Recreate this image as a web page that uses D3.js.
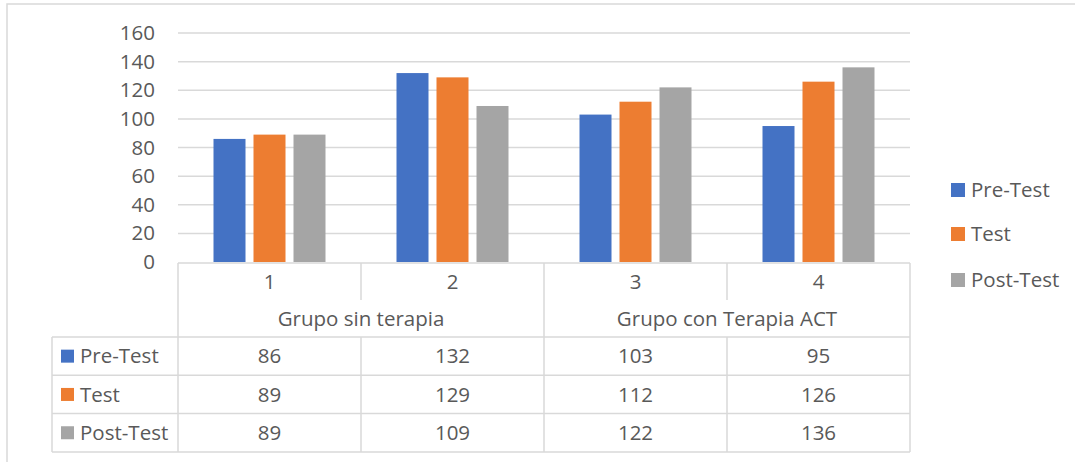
<!DOCTYPE html>
<html>
<head>
<meta charset="utf-8">
<script src="https://cdn.jsdelivr.net/npm/d3@7"></script>
<style>
  body { margin: 0; background: #fff; }
  text { font-family: 'Open Sans', Lato, sans-serif; fill: #595959; }
</style>
</head>
<body>
<div id="chart"></div>
<script>
const categories = ['1', '2', '3', '4'];
const groups = [
  { label: 'Grupo sin terapia', from: '1', to: '2' },
  { label: 'Grupo con Terapia ACT', from: '3', to: '4' },
];
const seriesNames = ['Pre-Test', 'Test', 'Post-Test'];
const preTest = [86, 132, 103, 95];
const test = [89, 129, 112, 126];
const postTest = [89, 109, 122, 136];
const yTicks = [0, 20, 40, 60, 80, 100, 120, 140, 160];
const colors = ['#4472c4', '#ed7d31', '#a5a5a5'];

const seriesValues = [preTest, test, postTest];

const totalWidth = 1075;
const totalHeight = 462;
const fontSize = 20.5;
const lineColor = '#d9d9d9';

const plot = { left: 178, right: 910, top: 33, bottom: 262 };
const table = { left: 52, catTop: 263, groupTop: 300, dataTop: 337, rowHeight: 38.3 };

const svg = d3
  .select('#chart')
  .append('svg')
  .attr('width', totalWidth)
  .attr('height', totalHeight);

// Outer chart border (only top and left visible)
svg
  .append('rect')
  .attr('x', 7)
  .attr('y', 4)
  .attr('width', totalWidth + 20)
  .attr('height', totalHeight + 20)
  .attr('fill', '#fff')
  .attr('stroke', lineColor)
  .attr('stroke-width', 1.5);

const xScale = d3.scaleBand().domain(categories).range([plot.left, plot.right]);
const innerScale = d3
  .scaleBand()
  .domain(seriesNames)
  .range([35.5, xScale.bandwidth() - 35.5])
  .paddingInner(0.2);
const yScale = d3.scaleLinear().domain([0, 160]).range([plot.bottom, plot.top]);

// Gridlines
svg
  .append('g')
  .selectAll('line')
  .data(yTicks.slice(1))
  .join('line')
  .attr('x1', plot.left)
  .attr('x2', plot.right)
  .attr('y1', (d) => yScale(d))
  .attr('y2', (d) => yScale(d))
  .attr('stroke', lineColor)
  .attr('stroke-width', 1.5);

// Y axis labels
const yAxis = svg
  .append('g')
  .attr('transform', `translate(${plot.left - 23}, 0)`)
  .call(d3.axisLeft(yScale).tickValues(yTicks).tickSize(0).tickPadding(0));
yAxis.select('.domain').remove();
yAxis
  .selectAll('text')
  .style('font-family', "'Open Sans', sans-serif")
  .style('font-size', `${fontSize}px`)
  .attr('fill', '#595959');

// Bars
seriesNames.forEach((name, si) => {
  svg
    .append('g')
    .selectAll('rect')
    .data(categories)
    .join('rect')
    .attr('x', (c) => xScale(c) + innerScale(name))
    .attr('y', (c, i) => yScale(seriesValues[si][i]))
    .attr('width', innerScale.bandwidth())
    .attr('height', (c, i) => plot.bottom - yScale(seriesValues[si][i]))
    .attr('fill', colors[si]);
});

// Data table
const tableG = svg.append('g').attr('fill', 'none');
const dataBottom = table.dataTop + table.rowHeight * seriesNames.length;

const hLine = (x1, x2, y) =>
  tableG
    .append('line')
    .attr('x1', x1)
    .attr('x2', x2)
    .attr('y1', y)
    .attr('y2', y)
    .attr('stroke', lineColor)
    .attr('stroke-width', 1.5);
const vLine = (x, y1, y2) =>
  tableG
    .append('line')
    .attr('x1', x)
    .attr('x2', x)
    .attr('y1', y1)
    .attr('y2', y2)
    .attr('stroke', lineColor)
    .attr('stroke-width', 1.5);

hLine(plot.left, plot.right, table.catTop);
seriesNames.forEach((_, i) => hLine(table.left, plot.right, table.dataTop + table.rowHeight * i));
hLine(table.left, plot.right, dataBottom);

vLine(table.left, table.dataTop, dataBottom);
vLine(plot.left, table.catTop, dataBottom);
vLine(plot.right, table.catTop, dataBottom);
categories.slice(1).forEach((c) => {
  const isGroupEdge = groups.some((g) => g.from === c);
  vLine(xScale(c), table.catTop, isGroupEdge ? dataBottom : table.groupTop);
  if (!isGroupEdge) vLine(xScale(c), table.dataTop, dataBottom);
});

// Category labels
svg
  .append('g')
  .selectAll('text')
  .data(categories)
  .join('text')
  .attr('x', (c) => xScale(c) + xScale.bandwidth() / 2)
  .attr('y', (table.catTop + table.groupTop) / 2)
  .attr('dy', '0.35em')
  .attr('text-anchor', 'middle')
  .style('font-size', `${fontSize}px`)
  .text((c) => c);

// Group labels
svg
  .append('g')
  .selectAll('text')
  .data(groups)
  .join('text')
  .attr('x', (g) => (xScale(g.from) + xScale(g.to) + xScale.bandwidth()) / 2)
  .attr('y', (table.groupTop + table.dataTop) / 2)
  .attr('dy', '0.35em')
  .attr('text-anchor', 'middle')
  .style('font-size', `${fontSize}px`)
  .text((g) => g.label);

// Data rows
seriesNames.forEach((name, si) => {
  const rowMid = table.dataTop + table.rowHeight * (si + 0.5);
  svg
    .append('rect')
    .attr('x', 61)
    .attr('y', rowMid - 6.5)
    .attr('width', 13)
    .attr('height', 13)
    .attr('fill', colors[si]);
  svg
    .append('text')
    .attr('x', 80)
    .attr('y', rowMid)
    .attr('dy', '0.35em')
    .style('font-size', `${fontSize}px`)
    .text(name);
  svg
    .append('g')
    .selectAll('text')
    .data(categories)
    .join('text')
    .attr('x', (c) => xScale(c) + xScale.bandwidth() / 2)
    .attr('y', rowMid)
    .attr('dy', '0.35em')
    .attr('text-anchor', 'middle')
    .style('font-size', `${fontSize}px`)
    .text((c, i) => seriesValues[si][i]);
});

// Legend
const legendY = [190, 234, 280];
seriesNames.forEach((name, si) => {
  svg
    .append('rect')
    .attr('x', 951)
    .attr('y', legendY[si] - 7)
    .attr('width', 14)
    .attr('height', 14)
    .attr('fill', colors[si]);
  svg
    .append('text')
    .attr('x', 971)
    .attr('y', legendY[si])
    .attr('dy', '0.35em')
    .style('font-size', `${fontSize}px`)
    .text(name);
});
</script>
</body>
</html>
